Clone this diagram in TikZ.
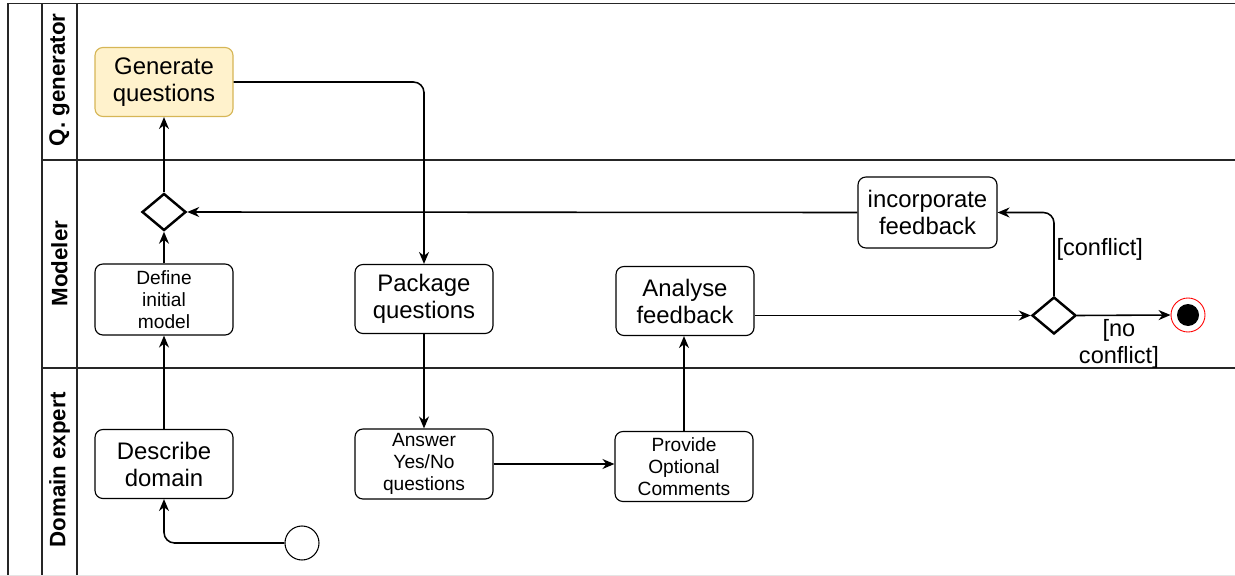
\documentclass[tikz,border=0pt]{standalone}
\usepackage{fontspec}
\setmainfont{Liberation Sans}
\usetikzlibrary{arrows.meta,positioning,shapes.geometric,calc}
\usepackage{xcolor}
\definecolor{qgFill}{HTML}{FFF2CC}
\definecolor{qgDraw}{HTML}{D6B656}
\begin{document}
\begin{tikzpicture}[
  lane/.style={line width=0.85pt, black!85},
  lanelbl/.style={rotate=90, font=\fontsize{12.7}{15}\selectfont\bfseries},
  act/.style={draw, rounded corners=4.5pt, minimum width=2.76cm, minimum height=1.38cm, align=center, font=\fontsize{13.6}{15.4}\selectfont, line width=0.65pt, inner sep=1pt, fill=white},
  actsm/.style={act, minimum height=1.4cm, font=\fontsize{10.9}{12.6}\selectfont},
  dec/.style={diamond, draw, line width=1.4pt, minimum width=0.88cm, minimum height=0.74cm, inner sep=0pt, fill=white},
  startev/.style={circle, draw, minimum size=0.68cm, inner sep=0pt, line width=0.6pt},
  finalev/.style={circle, draw=red, minimum size=0.68cm, inner sep=0pt, line width=0.5pt,
    path picture={\fill (path picture bounding box.center) circle (0.22cm);}},
  guard/.style={font=\fontsize{13.4}{15.4}\selectfont, inner sep=1pt},
  flow/.style={-{Stealth[length=2.4mm, width=2mm]}, line width=0.9pt}]
\useasboundingbox (0,0) rectangle (24.7,-11.52);
\draw[lane] (0.16,-11.52) -- (0.16,-0.07) -- (24.7,-0.07);
\draw[lane] (0.84,-0.07) -- (0.84,-11.52);
\draw[lane] (1.54,-0.07) -- (1.54,-11.52);
\draw[lane] (0.84,-3.2) -- (24.7,-3.2);
\draw[lane] (0.84,-7.36) -- (24.7,-7.36);
\draw[black!10] (0,-11.5) -- (24.7,-11.5);

\node[lanelbl] (lq) at (1.19,-1.6)  {Q. generator};
\node[lanelbl] (lm) at (1.19,-5.27) {Modeler};
\node[lanelbl] (ld) at (1.19,-9.4)  {Domain expert};

\node[act, fill=qgFill, draw=qgDraw] (gen) at (3.28,-1.64) {Generate\\questions};
\node[dec] (d1) at (3.28,-4.24) {};
\node[actsm, minimum height=1.42cm] (def) at (3.28,-5.99) {Define\\initial\\model};
\node[act] (desc) at (3.28,-9.28) {Describe\\domain};
\node[startev] (st) at (6.04,-10.86) {};
\node[act] (pkg) at (8.48,-5.98) {Package\\questions};
\node[actsm] (ans) at (8.48,-9.28) {Answer\\Yes/No\\questions};
\node[actsm] (prov) at (13.68,-9.33) {Provide\\Optional\\Comments};
\node[act] (anl) at (13.70,-6.02) {Analyse\\feedback};
\node[act, minimum width=2.78cm, minimum height=1.42cm] (inc) at (18.55,-4.25) {incorporate\\feedback};
\node[dec] (d2) at (21.08,-6.31) {};
\node[finalev] (fin) at (23.76,-6.30) {};

\draw[flow, rounded corners=6pt] (gen.east) -| (pkg.north);
\draw[flow] (pkg) -- (ans);
\draw[flow] (ans.east) -- (ans.east -| prov.west);
\draw[flow] (prov.north) -- (prov.north |- anl.south);
\draw[flow] (anl.east |- d2) -- (d2.west);
\draw[flow] (d2.east) -- node[guard, below=1pt, xshift=-0.1cm, align=center]{[no\\conflict]} (fin.west);
\draw[flow, rounded corners=6pt] (d2.north) |- node[guard, pos=0.28, right]{[conflict]} (inc.east);
\draw[flow] (inc.west) -- (d1.east);
\draw[flow] (def) -- (d1);
\draw[flow] (d1) -- (gen);
\draw[flow] (desc) -- (def);
\draw[flow, rounded corners=6pt] (st.west) -| (desc.south);
\end{tikzpicture}
\end{document}
